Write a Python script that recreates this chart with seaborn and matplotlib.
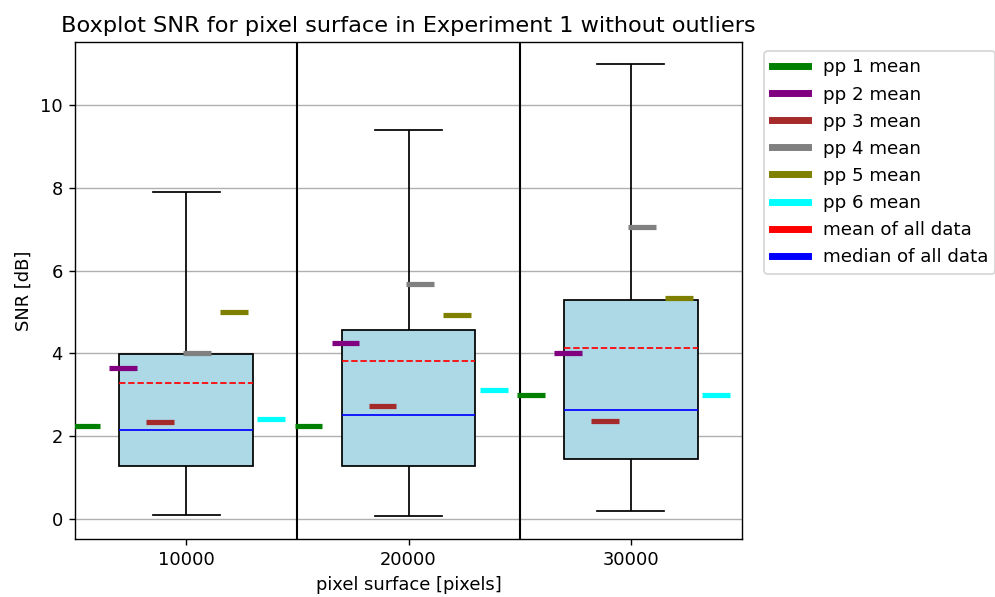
import numpy as np
import pandas as pd
import matplotlib
matplotlib.use("Agg")
import matplotlib.pyplot as plt
from matplotlib.lines import Line2D
import seaborn as sns

# Pixel surface groups
surfaces = [10000, 20000, 30000]

# Box summary per surface (SNR in dB)
whisker_low = [0.10, 0.07, 0.19]
q1 = [1.28, 1.28, 1.45]
median = [2.15, 2.52, 2.63]
q3 = [3.99, 4.57, 5.29]
whisker_high = [7.90, 9.40, 10.99]
mean_all = [3.28, 3.82, 4.13]

# Per-participant means for each surface
pp_means = {
    "pp 1": [2.25, 2.25, 3.00],
    "pp 2": [3.65, 4.25, 4.01],
    "pp 3": [2.34, 2.74, 2.37],
    "pp 4": [4.02, 5.68, 7.05],
    "pp 5": [5.00, 4.93, 5.34],
    "pp 6": [2.42, 3.12, 3.00],
}
pp_colors = ["green", "purple", "brown", "gray", "olive", "cyan"]

# Long-form table: five points per surface reproduce the box summary
rows = []
for i, s in enumerate(surfaces):
    for v in (whisker_low[i], q1[i], median[i], q3[i], whisker_high[i]):
        rows.append({"surface": s, "snr": v})
df = pd.DataFrame(rows)

plt.rcParams["font.size"] = 10.3

fig = plt.figure(figsize=(995 / 125, 597 / 125), dpi=125)
ax = fig.add_axes([75 / 995, 1 - 539 / 597, (742 - 75) / 995, (539 - 42) / 597])
ax.set_axisbelow(True)
ax.yaxis.grid(True, color="#b0b0b0", linewidth=0.8)

sns.boxplot(
    data=df, x="surface", y="snr", native_scale=True, ax=ax,
    width=0.6, color="lightblue", saturation=1, linecolor="black",
    linewidth=1.0, whis=(0, 100), showfliers=False,
    medianprops={"color": "blue", "linewidth": 1.0},
)

box_w = 6000
for i, s in enumerate(surfaces):
    ax.hlines(mean_all[i], s - box_w / 2, s + box_w / 2, colors="red",
              linestyles="--", linewidth=1.0, zorder=3)

# Participant means spread across each group's slot
offsets = [-4500, -2833, -1167, 500, 2167, 3833]
half = 625
for k, (name, vals) in enumerate(pp_means.items()):
    for i, s in enumerate(surfaces):
        c = s + offsets[k]
        ax.hlines(vals[i], c - half, c + half, colors=pp_colors[k],
                  linewidth=3, zorder=4)

for xsep in (15000, 25000):
    ax.axvline(xsep, color="black", linewidth=1.2, zorder=3)

ax.set_xlim(5000, 35000)
ax.set_ylim(-0.48, 11.52)
ax.set_xticks(surfaces)
ax.set_xticklabels([str(s) for s in surfaces])
ax.set_yticks([0, 2, 4, 6, 8, 10])
ax.set_xlabel("pixel surface [pixels]")
ax.set_ylabel("SNR [dB]")
ax.set_title("Boxplot SNR for pixel surface in Experiment 1 without outliers", fontsize=12.9)

handles = [Line2D([0], [0], color=c, linewidth=4) for c in pp_colors]
handles += [Line2D([0], [0], color="red", linewidth=4),
            Line2D([0], [0], color="blue", linewidth=4)]
labels = [f"{n} mean" for n in pp_means] + ["mean of all data", "median of all data"]
ax.legend(handles, labels, loc="upper left", bbox_to_anchor=(1.02, 1.0), fontsize=10.5)

fig.savefig("out.png", dpi=125)
